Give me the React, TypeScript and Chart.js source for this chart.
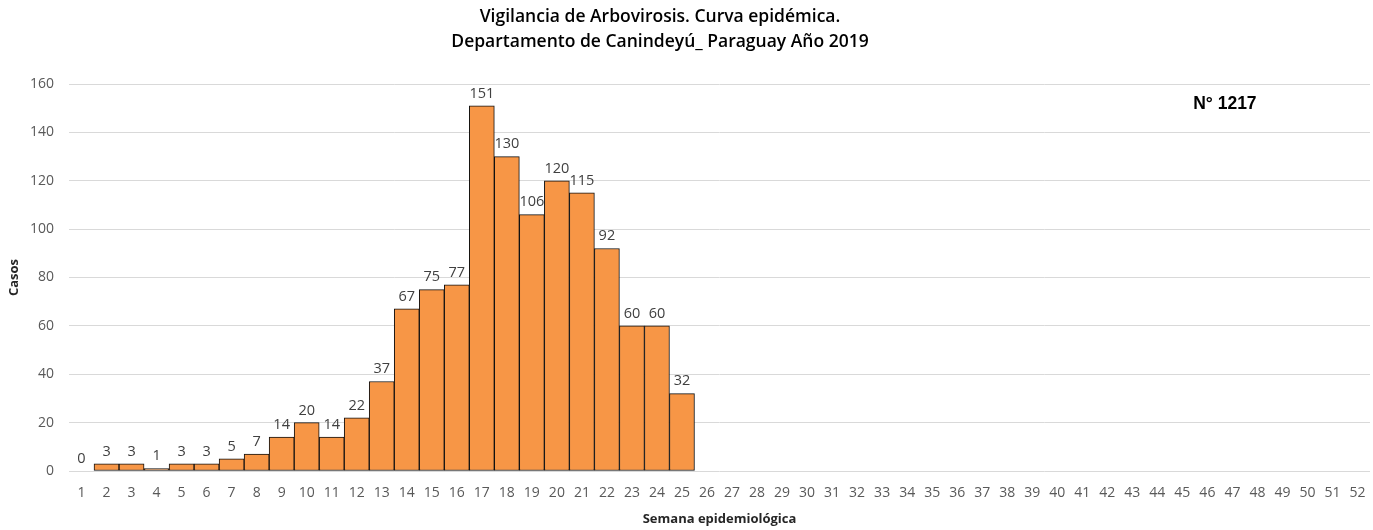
import React, { useEffect, useRef } from "react";
import { Chart, registerables } from "chart.js";

Chart.register(...registerables);

const weeks: string[] = Array.from({ length: 52 }, (_, i) => String(i + 1));
const cases: (number | null)[] = [
  0, 3, 3, 1, 3, 3, 5, 7, 14, 20, 14, 22, 37, 67, 75, 77, 151, 130, 106, 120, 115, 92, 60, 60, 32,
  null, null, null, null, null, null, null, null, null, null, null, null, null, null, null, null,
  null, null, null, null, null, null, null, null, null, null, null,
];
const titleLines: string[] = [
  "Vigilancia de Arbovirosis. Curva epidémica.",
  "Departamento de Canindeyú_ Paraguay Año 2019",
];
const totalLabel = "N° 1217";
const yMax = 160;
const yStep = 20;

const FONT = "'Open Sans', 'Noto Sans', sans-serif";

const labelsPlugin = {
  id: "barLabels",
  afterDatasetsDraw(chart: any) {
    const ctx = chart.ctx;
    const meta = chart.getDatasetMeta(0);
    ctx.save();
    ctx.font = `14.5px ${FONT}`;
    ctx.fillStyle = "#404040";
    ctx.textAlign = "center";
    ctx.textBaseline = "bottom";
    meta.data.forEach((bar: any, i: number) => {
      const v = cases[i];
      if (v === null || v === undefined) return;
      ctx.fillText(String(v), bar.x, bar.y - 5);
    });
    ctx.font = `bold 17.5px 'Liberation Sans', Arial, sans-serif`;
    ctx.fillStyle = "#000";
    ctx.textBaseline = "middle";
    const xs = chart.scales.x;
    const ys = chart.scales.y;
    ctx.fillText(totalLabel, xs.getPixelForValue(45.7), ys.getPixelForValue(151.8));
    // title
    ctx.font = `600 17.5px ${FONT}`;
    ctx.fillStyle = "#000";
    ctx.fillText(titleLines[0], 660, 17);
    ctx.fillText(titleLines[1], 660, 42);
    ctx.restore();
  },
};

export default function App() {
  const ref = useRef<HTMLCanvasElement>(null);
  useEffect(() => {
    document.body.style.margin = "0";
    const chart = new Chart(ref.current!, {
      type: "bar",
      data: {
        labels: weeks,
        datasets: [
          {
            data: cases as any,
            backgroundColor: "#F79646",
            borderColor: "#111111",
            borderWidth: 1,
            borderSkipped: false,
            barPercentage: 1,
            categoryPercentage: 1,
          },
        ],
      },
      options: {
        animation: false,
        responsive: false,
        maintainAspectRatio: false,
        layout: { padding: { left: 0, right: 3, top: 84, bottom: 0 } },
        plugins: {
          legend: { display: false },
          tooltip: { enabled: false },
          title: { display: false },
        },
        scales: {
          x: {
            grid: {
              display: true,
              drawOnChartArea: false,
              drawTicks: true,
              tickLength: 14,
              color: "rgba(0,0,0,0)",
            },
            border: { display: false },
            ticks: {
              color: "#595959",
              font: { family: FONT, size: 14 },
              padding: 0,
              maxRotation: 0,
              autoSkip: false,
            },
            title: {
              display: true,
              text: "Semana epidemiológica",
              color: "#262626",
              font: { family: FONT, size: 13, weight: "bold" },
              padding: { top: 4, bottom: 3 },
            },
            afterFit: (s: any) => {
              s.height = 59;
            },
          },
          y: {
            min: 0,
            max: yMax,
            grid: { color: "#d9d9d9", drawTicks: false },
            border: { display: false },
            ticks: {
              stepSize: yStep,
              color: "#595959",
              font: { family: FONT, size: 14 },
              padding: 15,
            },
            title: {
              display: true,
              text: "Casos",
              color: "#262626",
              font: { family: FONT, size: 13, weight: "bold" },
              padding: { top: 6, bottom: 0 },
            },
            afterFit: (s: any) => {
              s.width = 69;
            },
          },
        },
      },
      plugins: [labelsPlugin],
    });
    return () => chart.destroy();
  }, []);
  return (
    <div style={{ width: 1373, height: 530 }}>
      <canvas ref={ref} width={1373} height={530} style={{ display: "block" }} />
    </div>
  );
}
